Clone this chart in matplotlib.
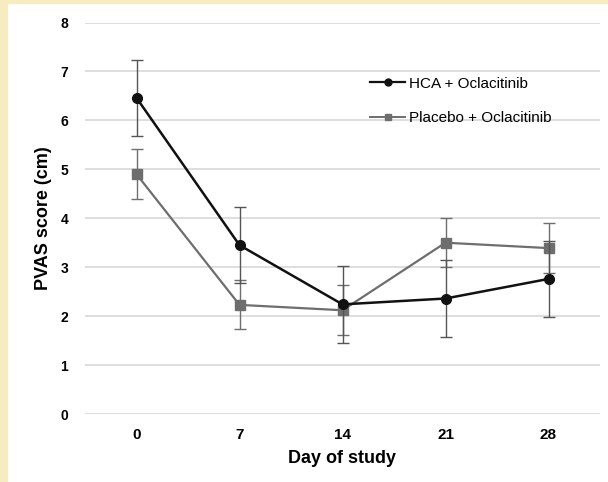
import matplotlib.pyplot as plt
from matplotlib.patches import Rectangle
from matplotlib.lines import Line2D

# data
days = ['0', '7', '14', '21', '28']
hca = [6.46, 3.45, 2.24, 2.36, 2.76]
hca_err = [0.78, 0.78, 0.78, 0.78, 0.78]
placebo = [4.90, 2.23, 2.12, 3.50, 3.39]
placebo_err = [0.51, 0.50, 0.51, 0.50, 0.51]

plt.rcParams['font.family'] = ['Liberation Sans', 'DejaVu Sans']

fig = plt.figure(figsize=(6.08, 4.82), dpi=100)
# pale yellow frame strip on the left / top
fig.patches.append(Rectangle((0, 0), 7 / 608, 1, transform=fig.transFigure,
                             color='#f6ecc0', zorder=0))
fig.patches.append(Rectangle((0, 1 - 3 / 482), 1, 3 / 482, transform=fig.transFigure,
                             color='#f6ecc0', zorder=0))

ax = fig.add_axes([85 / 608, 1 - 414 / 482, 515 / 608, (414 - 22.5) / 482])
x = range(len(days))

ax.errorbar(x, placebo, yerr=placebo_err, color='#6e6e6e', marker='s', markersize=7,
            linewidth=1.6, elinewidth=1.0, capsize=4, capthick=1.0, zorder=3)
ax.errorbar(x, hca, yerr=hca_err, color='#111111', marker='o', markersize=7,
            linewidth=1.8, elinewidth=1.0, ecolor='#555555', capsize=4, capthick=1.0,
            zorder=4)

ax.set_xlim(-0.5, 4.5)
ax.set_ylim(0, 8)
ax.set_xticks(list(x))
ax.set_xticklabels(days)
ax.set_yticks(range(0, 9))
for lab in ax.get_xticklabels() + ax.get_yticklabels():
    lab.set_fontweight('bold')
ax.tick_params(axis='x', length=0, labelsize=11, pad=10)
ax.tick_params(axis='y', length=0, labelsize=10, pad=12)
ax.grid(axis='y', color='#d8d8d8', linewidth=1.2)
ax.set_axisbelow(True)
for s in ax.spines.values():
    s.set_visible(False)

ax.set_xlabel('Day of study', fontsize=13, fontweight='bold', labelpad=6)
ax.set_ylabel('PVAS score (cm)', fontsize=13, fontweight='bold', labelpad=6)

handles = [Line2D([], [], color='#111111', marker='o', markersize=5, linewidth=1.6),
           Line2D([], [], color='#6e6e6e', marker='s', markersize=5, linewidth=1.4)]
labels = ['HCA + Oclacitinib', 'Placebo + Oclacitinib']
fig.legend(handles, labels, loc='upper left', bbox_to_anchor=(370 / 608, 1 - 76.5 / 482),
           frameon=False, fontsize=11, handlelength=2.3, handletextpad=0.26,
           labelspacing=1.35, borderpad=0, borderaxespad=0)

plt.savefig('out.png', dpi=100)
